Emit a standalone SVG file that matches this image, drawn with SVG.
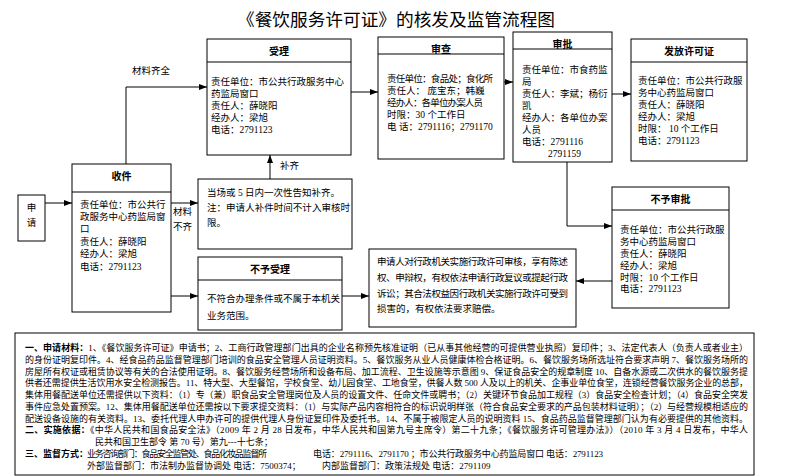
<svg xmlns="http://www.w3.org/2000/svg" width="785" height="476" viewBox="0 0 785 476">
<defs>
<marker id="arr" markerWidth="8" markerHeight="6" refX="8" refY="3" orient="auto" markerUnits="userSpaceOnUse"><path d="M0,0 L8,3 L0,6 z" fill="#000"/></marker>
</defs>
<style>
.box{fill:#fff;stroke:#000;stroke-width:1}
.sep{stroke:#000;stroke-width:1}
.t{font-family:"Liberation Serif","Noto Sans CJK SC",serif;font-size:9.5px;fill:#000}
.h{font-family:"Liberation Serif","Noto Sans CJK SC",serif;font-size:10px;fill:#000;text-anchor:middle;font-weight:bold}
.b{font-family:"Liberation Serif","Noto Sans CJK SC",serif;font-size:9px;fill:#000}
.c{fill:none;stroke:#000;stroke-width:1}
.bold{font-weight:bold}
</style>
<rect width="785" height="476" fill="#fff"/>
<text x="396" y="26" text-anchor="middle" font-family="Noto Sans CJK SC, sans-serif" font-size="17" textLength="318" lengthAdjust="spacingAndGlyphs">《餐饮服务许可证》的核发及监管流程图</text>

<g id="connectors">
<path class="c" d="M45,203 H72" marker-end="url(#arr)"/>
<path class="c" d="M126,164 V87 H207" marker-end="url(#arr)"/>
<path class="c" d="M171,203 H198" marker-end="url(#arr)"/>
<path class="c" d="M171,296 H198" marker-end="url(#arr)"/>
<path class="c" d="M270,179 V155" marker-end="url(#arr)"/>
<path class="c" d="M351,92 H378" marker-end="url(#arr)"/>
<path class="c" d="M504,82 H513" marker-end="url(#arr)"/>
<path class="c" d="M612,94 H631" marker-end="url(#arr)"/>
<path class="c" d="M567,162 V226 H612" marker-end="url(#arr)"/>
<path class="c" d="M612,281 H576" marker-end="url(#arr)"/>
<path class="c" d="M342,296 H369" marker-end="url(#arr)"/>
<text class="t" x="132" y="74">材料齐全</text>
<text class="t" x="173" y="215">材料</text>
<text class="t" x="173" y="230">不齐</text>
<text class="t" x="280" y="169">补齐</text>
</g>

<g id="apply">
<rect class="box" x="18" y="195" width="27" height="46"/>
<text class="t" x="31.5" y="211" text-anchor="middle">申</text>
<text class="t" x="31.5" y="226" text-anchor="middle">请</text>
</g>

<g id="receive">
<rect class="box" x="72" y="164" width="99" height="148"/>
<line class="sep" x1="72" y1="192" x2="171" y2="192"/>
<text class="h" x="121.5" y="180">收件</text>
<text class="t" x="80" y="208">责任单位：市公共行</text>
<text class="t" x="80" y="220">政服务中心药监局窗</text>
<text class="t" x="80" y="232">口</text>
<text class="t" x="80" y="245">责任人：薛晓阳</text>
<text class="t" x="80" y="257">经办人：梁旭</text>
<text class="t" x="80" y="270">电话：2791123</text>
</g>

<g id="accept">
<rect class="box" x="207" y="39" width="144" height="116"/>
<line class="sep" x1="207" y1="62" x2="351" y2="62"/>
<text class="h" x="279" y="55">受理</text>
<text class="t" x="211" y="85">责任单位：市公共行政服务中心</text>
<text class="t" x="211" y="97">药监局窗口</text>
<text class="t" x="211" y="109">责任人：薛晓阳</text>
<text class="t" x="211" y="121">经办人：梁旭</text>
<text class="t" x="211" y="133">电话：2791123</text>
</g>

<g id="review">
<rect class="box" x="378" y="37" width="126" height="122"/>
<line class="sep" x1="378" y1="54" x2="504" y2="54"/>
<text class="h" x="441" y="53">审查</text>
<text class="t" x="387" y="82" textLength="106">责任单位：食品处；食化所</text>
<text class="t" x="387" y="94">责任人：  庞宝东；韩巍</text>
<text class="t" x="387" y="106" textLength="96">经办人：各单位办案人员</text>
<text class="t" x="387" y="118">时限：30 个工作日</text>
<text class="t" x="387" y="130">电    话：2791116；2791170</text>
</g>

<g id="approve">
<rect class="box" x="513" y="32" width="99" height="130"/>
<line class="sep" x1="513" y1="49" x2="612" y2="49"/>
<text class="h" x="562.5" y="48">审批</text>
<text class="t" x="522" y="73">责任单位：市食药监</text>
<text class="t" x="522" y="85">局</text>
<text class="t" x="522" y="97">责任人：李斌；杨衍</text>
<text class="t" x="522" y="109">凯</text>
<text class="t" x="522" y="121">经办人：各单位办案</text>
<text class="t" x="522" y="133">人员</text>
<text class="t" x="522" y="145">电话：2791116</text>
<text class="t" x="548" y="157">2791159</text>
</g>

<g id="issue">
<rect class="box" x="631" y="39" width="116" height="122"/>
<line class="sep" x1="631" y1="62" x2="747" y2="62"/>
<text class="h" x="689" y="55">发放许可证</text>
<text class="t" x="638" y="84">责任单位：市公共行政服</text>
<text class="t" x="638" y="96">务中心药监局窗口</text>
<text class="t" x="638" y="108">责任人：薛晓阳</text>
<text class="t" x="638" y="120">经办人：梁旭</text>
<text class="t" x="638" y="132">时限：  10 个工作日</text>
<text class="t" x="638" y="144">电话：2791123</text>
</g>

<g id="reject-approve">
<rect class="box" x="612" y="187" width="117" height="121"/>
<line class="sep" x1="612" y1="210" x2="729" y2="210"/>
<text class="h" x="670.5" y="203">不予审批</text>
<text class="t" x="620" y="233">责任单位：市公共行政服</text>
<text class="t" x="620" y="245">务中心药监局窗口</text>
<text class="t" x="620" y="257">责任人：薛晓阳</text>
<text class="t" x="620" y="269">经办人：梁旭</text>
<text class="t" x="620" y="281">时限：10 个工作日</text>
<text class="t" x="620" y="292">电话：2791123</text>
</g>

<g id="supplement">
<rect class="box" x="198" y="179" width="154" height="70"/>
<text class="t" x="207" y="196">当场或 5 日内一次性告知补齐。</text>
<text class="t" x="207" y="211" textLength="143">注：申请人补件时间不计入审核时</text>
<text class="t" x="207" y="226">限。</text>
</g>

<g id="reject-accept">
<rect class="box" x="198" y="257" width="144" height="73"/>
<line class="sep" x1="198" y1="280" x2="342" y2="280"/>
<text class="h" x="270" y="273">不予受理</text>
<text class="t" x="207" y="302">不符合办理条件或不属于本机关</text>
<text class="t" x="207" y="319">业务范围。</text>
</g>

<g id="rights">
<rect class="box" x="369" y="249" width="207" height="78"/>
<text class="t" x="377" y="265" textLength="191">申请人对行政机关实施行政许可审核，享有陈述</text>
<text class="t" x="377" y="281" textLength="191">权、申辩权，有权依法申请行政复议或提起行政</text>
<text class="t" x="377" y="297" textLength="191">诉讼；其合法权益因行政机关实施行政许可受到</text>
<text class="t" x="377" y="312">损害的，有权依法要求赔偿。</text>
</g>

<g id="notes">
<rect class="box" x="15" y="333" width="739" height="142"/>
<text class="b" x="25" y="351" textLength="723" lengthAdjust="spacing"><tspan class="bold">一、申请材料：</tspan>1、《餐饮服务许可证》申请书；2、工商行政管理部门出具的企业名称预先核准证明（已从事其他经营的可提供营业执照）复印件；3、法定代表人（负责人或者业主）</text>
<text class="b" x="25" y="362.7" textLength="723" lengthAdjust="spacing">的身份证明复印件。4、经食品药品监督管理部门培训的食品安全管理人员证明资料。5、餐饮服务从业人员健康体检合格证明。6、餐饮服务场所选址符合要求声明 7、餐饮服务场所的</text>
<text class="b" x="25" y="374.5" textLength="723" lengthAdjust="spacing">房屋所有权证或租赁协议等有关的合法使用证明。8、餐饮服务经营场所和设备布局、加工流程、卫生设施等示意图 9、保证食品安全的规章制度 10、自备水源或二次供水的餐饮服务提</text>
<text class="b" x="25" y="386.2" textLength="723" lengthAdjust="spacing">供者还需提供生活饮用水安全检测报告。11、特大型、大型餐馆，学校食堂、幼儿园食堂、工地食堂，供餐人数 500 人及以上的机关、企事业单位食堂，连锁经营餐饮服务企业的总部，</text>
<text class="b" x="25" y="398" textLength="723" lengthAdjust="spacing">集体用餐配送单位还需提供以下资料：（1）专（兼）职食品安全管理岗位及人员的设置文件、任命文件或聘书；（2）关键环节食品加工规程（3）食品安全检查计划；（4）食品安全突发</text>
<text class="b" x="25" y="409.7" textLength="723" lengthAdjust="spacing">事件应急处置预案。12、集体用餐配送单位还需按以下要求提交资料：（1）与实际产品内容相符合的标识说明样张（符合食品安全要求的产品包装材料证明）；（2）与经营规模相适应的</text>
<text class="b" x="25" y="421.5" textLength="723" lengthAdjust="spacing">配送设备设施的有关资料。13、委托代理人申办许可的提供代理人身份证复印件及委托书。14、不属于被限定人员的说明资料 15、食品药品监督管理部门认为有必要提供的其他资料。</text>
<text class="b" x="25" y="433.2" textLength="723" lengthAdjust="spacing"><tspan class="bold">二、实施依据：</tspan>《中华人民共和国食品安全法》（2009 年 2 月 28 日发布，中华人民共和国第九号主席令）第二十九条；《餐饮服务许可管理办法》）（2010 年 3 月 4 日发布，中华人</text>
<text class="b" x="95" y="445">民共和国卫生部令    第 70 号）第九---十七条；</text>
<text class="b" x="25" y="456.7"><tspan class="bold">三、监督方式：</tspan></text>
<text class="b" x="87" y="456.7" textLength="180">业务咨询部门：食品安全监管处、食品化妆品监督所</text>
<text class="b" x="313" y="456.7" textLength="290">电话：2791116、2791170 ；市公共行政服务中心药监局窗口  电话：2791123</text>
<text class="b" x="87" y="468.5">外部监督部门：市法制办监督协调处   电话：7500374；</text>
<text class="b" x="322" y="468.5">内部监督部门：政策法规处   电话：2791109</text>
</g>
</svg>
